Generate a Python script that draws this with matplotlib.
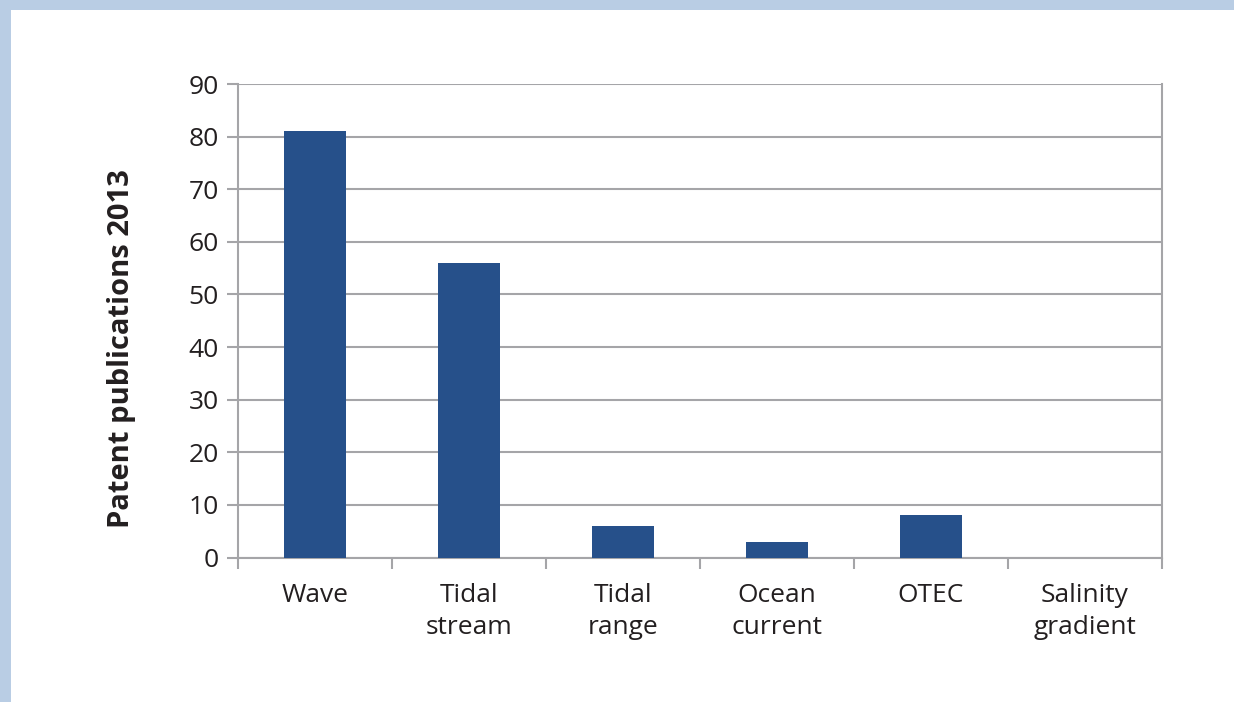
import matplotlib as mpl
import matplotlib.pyplot as plt
import numpy as np
from matplotlib.patches import Rectangle

# Patent publications per ocean energy technology, 2013
categories = ["Wave", "Tidal\nstream", "Tidal\nrange", "Ocean\ncurrent", "OTEC", "Salinity\ngradient"]
publications = [81, 56, 6, 3, 8, 0]
yticks = [0, 10, 20, 30, 40, 50, 60, 70, 80, 90]

barColor = "#26508a"
gridColor = "#a5a5a8"
textColor = "#231f20"
frameColor = "#b9cde4"

mpl.rcParams['font.family'] = ['Open Sans', 'DejaVu Sans']
mpl.rcParams['font.size'] = 19

fig = plt.figure(figsize=(12.34, 7.02), dpi=100)
fig.patch.set_facecolor(frameColor)
# white page with the light blue band on top and left
fig.patches.append(Rectangle((11/1234, 0), 1 - 11/1234, 1 - 10/702,
                             transform=fig.transFigure, facecolor='white',
                             edgecolor='none', zorder=-10))

L, B = 238/1234, 1 - 557.5/702
W, H = (1162 - 238)/1234, (557.5 - 84)/702
ax = fig.add_axes([L, B, W, H])
ax.set_facecolor('none')

x = np.arange(len(categories))
ax.bar(x, publications, width=0.4, color=barColor, zorder=3)

ax.set_xlim(-0.5, len(categories) - 0.5)
ax.set_ylim(0, 90)
ax.set_yticks(yticks)
ax.yaxis.grid(True, color=gridColor, linewidth=1.5, zorder=0)

# category labels centred, ticks on category boundaries
ax.set_xticks(x)
ax.set_xticklabels(categories, color=textColor, linespacing=1.37)
ax.set_xticks(np.arange(-0.5, len(categories)), minor=True)
ax.tick_params(axis='x', which='major', length=0, pad=18)
ax.tick_params(axis='x', which='minor', length=8, width=1.5, color=gridColor)
ax.tick_params(axis='y', length=8, width=1.5, color=gridColor, labelcolor=textColor, pad=6)

for side in ['left', 'right', 'bottom']:
    ax.spines[side].set_color(gridColor)
    ax.spines[side].set_linewidth(1.5)
ax.spines['top'].set_visible(False)

fig.text(121/1234, 1 - 349/702, "Patent publications 2013", rotation=90,
         ha='center', va='center', fontweight='bold', color=textColor, fontsize=21)

plt.savefig("out.png", dpi=100, facecolor=fig.get_facecolor())
